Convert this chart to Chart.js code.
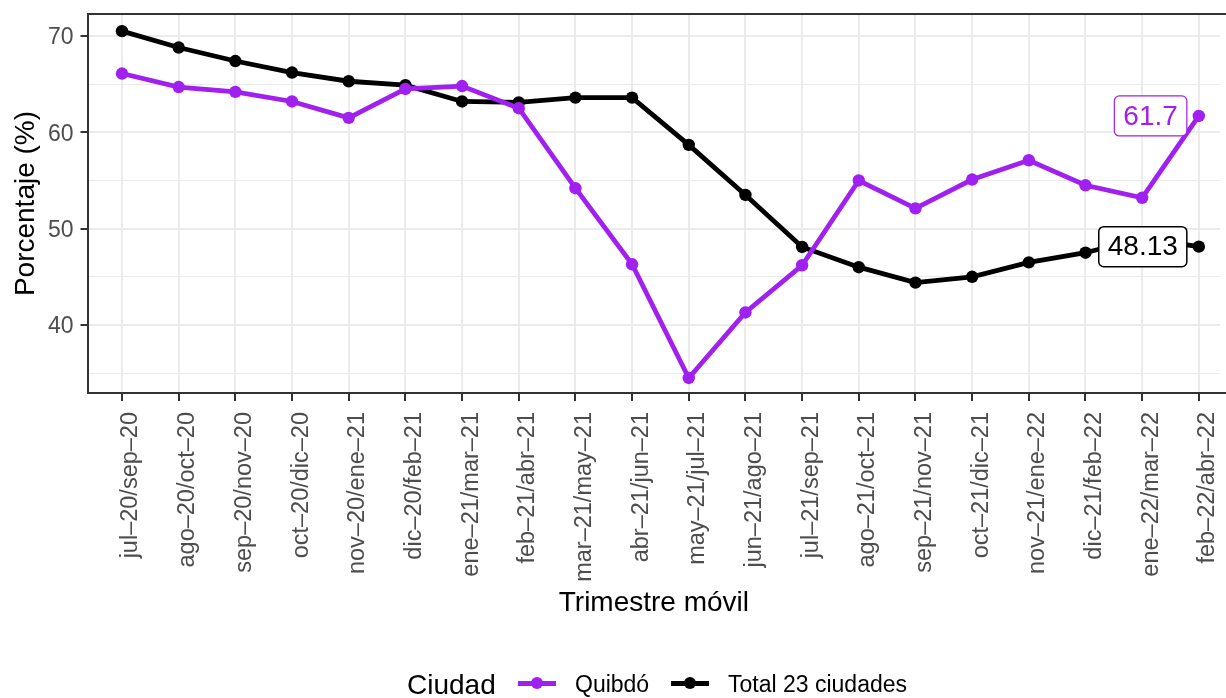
<!DOCTYPE html>
<html>
<head>
<meta charset="utf-8">
<script src="https://cdn.jsdelivr.net/npm/chart.js@4/dist/chart.umd.min.js"></script>
<style>
  html, body { margin: 0; padding: 0; background: #fff; }
  #wrap { position: relative; width: 1226px; height: 698px; overflow: hidden; font-family: "Liberation Sans", Arial, sans-serif; }
  #c { position: absolute; left: 0; top: 0; }
  .lg { position: absolute; white-space: nowrap; line-height: 1; }
  .key { position: absolute; height: 5px; width: 38px; }
  .dot { position: absolute; width: 12px; height: 12px; border-radius: 50%; }
</style>
</head>
<body>
<div id="wrap">
  <canvas id="c" width="1226" height="698"></canvas>
  <div class="lg" style="left:407px; top:671px; font-size:28px; color:#000;">Ciudad</div>
  <div class="key" style="left:518px; top:681px; background:#A020F0;"></div>
  <div class="dot" style="left:531px; top:677px; background:#A020F0;"></div>
  <div class="lg" style="left:575px; top:673px; font-size:23px; color:#000;">Quibdó</div>
  <div class="key" style="left:671px; top:681px; background:#000;"></div>
  <div class="dot" style="left:684px; top:677px; background:#000;"></div>
  <div class="lg" style="left:728px; top:673px; font-size:23px; color:#000;">Total 23 ciudades</div>
</div>
<script>
const categories = [
  "jul–20/sep–20", "ago–20/oct–20", "sep–20/nov–20", "oct–20/dic–20", "nov–20/ene–21",
  "dic–20/feb–21", "ene–21/mar–21", "feb–21/abr–21", "mar–21/may–21", "abr–21/jun–21",
  "may–21/jul–21", "jun–21/ago–21", "jul–21/sep–21", "ago–21/oct–21", "sep–21/nov–21",
  "oct–21/dic–21", "nov–21/ene–22", "dic–21/feb–22", "ene–22/mar–22", "feb–22/abr–22"
];
const quibdo = [66.1, 64.7, 64.2, 63.2, 61.5, 64.5, 64.8, 62.5, 54.2, 46.3,
                34.5, 41.3, 46.2, 55.0, 52.1, 55.1, 57.1, 54.5, 53.2, 61.7];
const total  = [70.5, 68.8, 67.4, 66.2, 65.3, 64.9, 63.2, 63.1, 63.6, 63.6,
                58.7, 53.5, 48.1, 46.0, 44.4, 45.0, 46.5, 47.5, 49.0, 48.13];
const yMajorTicks = [40, 50, 60, 70];
const yMinorTicks = [35, 45, 55, 65];
const seriesNames = ["Quibdó", "Total 23 ciudades"];
const endLabels = ["61.7", "48.13"];

const PURPLE = "#A020F0";
const FONT = "'Liberation Sans', Arial, sans-serif";

const toXY = arr => arr.map((v, i) => ({ x: i, y: v }));

const panelBorder = {
  id: 'panelBorder',
  afterDraw(chart) {
    const { ctx, chartArea: a } = chart;
    ctx.save();
    ctx.strokeStyle = '#333333';
    ctx.lineWidth = 2;
    ctx.strokeRect(a.left, a.top, a.right - a.left + 12, a.bottom - a.top);
    ctx.restore();
  }
};

const endLabelPlugin = {
  id: 'endLabels',
  afterDatasetsDraw(chart) {
    const { ctx } = chart;
    chart.data.datasets.forEach((ds, di) => {
      const meta = chart.getDatasetMeta(di);
      const last = meta.data[meta.data.length - 1];
      const text = endLabels[di];
      ctx.save();
      ctx.font = "28px " + FONT;
      const tw = ctx.measureText(text).width;
      const padX = 9, h = 40;
      const right = last.x - 12;
      const left = right - tw - 2 * padX;
      const top = last.y - h / 2;
      ctx.beginPath();
      ctx.roundRect(left, top, right - left, h, 5);
      ctx.fillStyle = '#fff';
      ctx.fill();
      ctx.lineWidth = di === 0 ? 1.2 : 1.5;
      ctx.strokeStyle = ds.borderColor;
      ctx.stroke();
      ctx.fillStyle = ds.borderColor;
      ctx.textAlign = 'left';
      ctx.textBaseline = 'middle';
      ctx.fillText(text, left + padX, last.y + 1);
      ctx.restore();
    });
  }
};

new Chart(document.getElementById('c'), {
  type: 'line',
  data: {
    datasets: [
      { label: seriesNames[0], data: toXY(quibdo), borderColor: PURPLE, backgroundColor: PURPLE,
        borderWidth: 4.8, pointRadius: 6.2, pointBorderWidth: 0, pointBackgroundColor: PURPLE, tension: 0 },
      { label: seriesNames[1], data: toXY(total), borderColor: '#000000', backgroundColor: '#000000',
        borderWidth: 4.8, pointRadius: 6.2, pointBorderWidth: 0, pointBackgroundColor: '#000000', tension: 0 }
    ]
  },
  options: {
    responsive: false,
    animation: false,
    devicePixelRatio: 1,
    layout: { padding: { top: 14, right: 0, left: 0, bottom: 0 } },
    plugins: { legend: { display: false }, tooltip: { enabled: false } },
    scales: {
      x: {
        type: 'linear',
        min: -0.6,
        max: 19.37,
        afterBuildTicks: s => { s.ticks = categories.map((_, i) => ({ value: i })); },
        afterFit: s => { s.height = 305; },
        ticks: {
          autoSkip: false,
          minRotation: 90, maxRotation: 90,
          padding: 11,
          labelOffset: 9,
          color: '#4d4d4d',
          font: { family: FONT, size: 23.5, lineHeight: 0.1 },
          callback: v => categories[v]
        },
        grid: { color: '#ebebeb', lineWidth: 2, tickColor: '#333333', tickLength: 8, tickWidth: 2 },
        border: { display: false },
        title: { display: true, text: 'Trimestre móvil', color: '#000', font: { family: FONT, size: 28 }, padding: { top: 0, bottom: 78 } }
      },
      y: {
        type: 'linear',
        min: 32.94,
        max: 72.28,
        afterBuildTicks: s => {
          s.ticks = yMinorTicks.concat(yMajorTicks).sort((a, b) => a - b).map(v => ({ value: v }));
        },
        afterFit: s => { s.width = 88; },
        ticks: {
          padding: 7,
          labelOffset: 2,
          color: '#4d4d4d',
          font: { family: FONT, size: 23, lineHeight: 0.6 },
          callback: v => yMajorTicks.includes(v) ? String(v) : ''
        },
        grid: {
          color: '#ebebeb',
          lineWidth: c => (c.tick && yMajorTicks.includes(c.tick.value)) ? 2 : 1,
          tickColor: c => (c.tick && yMajorTicks.includes(c.tick.value)) ? '#333333' : 'rgba(0,0,0,0)',
          tickLength: 7.5,
          tickWidth: 2
        },
        border: { display: false },
        title: { display: true, text: 'Porcentaje (%)', color: '#000', font: { family: FONT, size: 28 }, padding: { top: 9, bottom: 0 } }
      }
    }
  },
  plugins: [panelBorder, endLabelPlugin]
});
</script>
</body>
</html>
